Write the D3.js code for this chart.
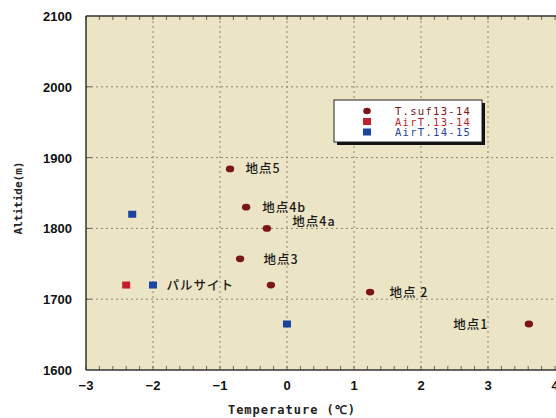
<!DOCTYPE html>
<html>
<head>
<meta charset="utf-8">
<script src="https://cdn.jsdelivr.net/npm/d3@7"></script>
<style>
  body { margin: 0; background: #fff; }
</style>
</head>
<body>
<div id="chart"></div>
<script>
// data
const tsufTemp = [-0.85, -0.61, -0.30, -0.70, -0.24, 1.24, 3.61];
const tsufAlt = [1884, 1830, 1800, 1757, 1720, 1710, 1665];
const air1314Temp = [-2.40];
const air1314Alt = [1720];
const air1415Temp = [-2.31, -2.0, 0.0];
const air1415Alt = [1820, 1720, 1665];

const siteNames = ["地点5", "地点4b", "地点4a", "地点3", "パルサイト", "地点 2", "地点1"];
// label anchor points (temp, alt) next to the points
const siteTemp = [-0.62, -0.37, 0.08, -0.35, -1.8, 1.53, 2.48];
const siteAlt = [1884, 1830, 1810, 1756, 1720, 1710, 1664];

const xTicks = [-3, -2, -1, 0, 1, 2, 3, 4];
const yTicks = [1600, 1700, 1800, 1900, 2000, 2100];

const width = 556, height = 418;
const margin = { top: 16, bottom: 48, left: 86, right: 1 };

const svg = d3.select("#chart").append("svg")
  .attr("width", width).attr("height", height)
  .attr("font-family", "'Liberation Sans', Arial, sans-serif");

const xScale = d3.scaleLinear().domain([-3, 4]).range([margin.left, 555]);
const yScale = d3.scaleLinear().domain([1600, 2100]).range([height - margin.bottom, margin.top]);

// plot background
svg.append("rect")
  .attr("x", margin.left).attr("y", margin.top)
  .attr("width", width - margin.left).attr("height", yScale(1600) - margin.top)
  .attr("fill", "#ece5c5");

// grid
svg.selectAll("line.vgrid")
  .data(xTicks.filter(d => d > -3 && d < 4))
  .join("line")
  .attr("class", "vgrid")
  .attr("x1", d => xScale(d)).attr("x2", d => xScale(d))
  .attr("y1", margin.top).attr("y2", yScale(1600))
  .attr("stroke", "#8a8670").attr("stroke-width", 1)
  .attr("stroke-dasharray", "2,3");

svg.selectAll("line.hgrid")
  .data(yTicks.filter(d => d > 1600 && d < 2100))
  .join("line")
  .attr("class", "hgrid")
  .attr("x1", margin.left).attr("x2", width)
  .attr("y1", d => yScale(d)).attr("y2", d => yScale(d))
  .attr("stroke", "#8a8670").attr("stroke-width", 1)
  .attr("stroke-dasharray", "2,3");

// short solid stubs at left
svg.selectAll("line.ystub")
  .data(yTicks.filter(d => d > 1600 && d < 2100))
  .join("line")
  .attr("class", "ystub")
  .attr("x1", margin.left).attr("x2", margin.left + 6)
  .attr("y1", d => yScale(d)).attr("y2", d => yScale(d))
  .attr("stroke", "#6a6650");

// minor ticks on top and bottom
const minor = d3.range(-3, 4.01, 0.2).map(d => +d.toFixed(1));
[yScale(1600), margin.top].forEach((y0, i) => {
  svg.selectAll("line.minor" + i)
    .data(minor)
    .join("line")
    .attr("class", "minor" + i)
    .attr("x1", d => xScale(d)).attr("x2", d => xScale(d))
    .attr("y1", y0).attr("y2", i === 0 ? y0 - 4 : y0 + 4)
    .attr("stroke", "#6a6650");
});

// axes lines
svg.append("line")
  .attr("x1", margin.left).attr("x2", width)
  .attr("y1", margin.top).attr("y2", margin.top)
  .attr("stroke", "#333").attr("stroke-width", 1.5);
svg.append("line")
  .attr("x1", margin.left).attr("x2", width)
  .attr("y1", yScale(1600)).attr("y2", yScale(1600))
  .attr("stroke", "#333").attr("stroke-width", 1.5);
svg.append("line")
  .attr("x1", margin.left).attr("x2", margin.left)
  .attr("y1", margin.top).attr("y2", yScale(1600))
  .attr("stroke", "#333").attr("stroke-width", 1.5);

// tick labels (the "4" is cut by the right edge as in the original)
svg.selectAll("text.xtick")
  .data(xTicks)
  .join("text")
  .attr("class", "xtick")
  .attr("x", d => xScale(d)).attr("y", yScale(1600) + 20)
  .attr("text-anchor", "middle")
  .attr("font-size", 13).attr("font-weight", "bold")
  .attr("fill", "#111")
  .text(d => d < 0 ? "\u2212" + Math.abs(d) : d);

svg.selectAll("text.ytick")
  .data(yTicks)
  .join("text")
  .attr("class", "ytick")
  .attr("x", 72).attr("y", d => yScale(d) + 5)
  .attr("text-anchor", "end")
  .attr("font-size", 13).attr("font-weight", "bold")
  .attr("fill", "#111")
  .text(d => d);

// axis titles
svg.append("text")
  .attr("x", 292).attr("y", 414)
  .attr("text-anchor", "middle")
  .attr("font-family", "'DejaVu Sans Mono', monospace")
  .attr("font-size", 12).attr("font-weight", "bold")
  .attr("letter-spacing", 1)
  .attr("fill", "#222")
  .text("Temperature (℃)");

svg.append("text")
  .attr("transform", "translate(22, 198) rotate(-90)")
  .attr("text-anchor", "middle")
  .attr("font-family", "'DejaVu Sans Mono', monospace")
  .attr("font-size", 11).attr("font-weight", "bold")
  .attr("fill", "#222")
  .text("Altitide(m)");

// points
svg.append("clipPath").attr("id", "plotclip")
  .append("rect").attr("x", margin.left).attr("y", margin.top)
  .attr("width", width - margin.left).attr("height", yScale(1600) - margin.top);

const plot = svg.append("g").attr("clip-path", "url(#plotclip)");

plot.selectAll("ellipse.tsuf")
  .data(d3.zip(tsufTemp, tsufAlt))
  .join("ellipse")
  .attr("class", "tsuf")
  .attr("cx", d => xScale(d[0])).attr("cy", d => yScale(d[1]))
  .attr("rx", 4.2).attr("ry", 3.4)
  .attr("fill", "#7a1518");

plot.selectAll("rect.air1314")
  .data(d3.zip(air1314Temp, air1314Alt))
  .join("rect")
  .attr("class", "air1314")
  .attr("x", d => xScale(d[0]) - 4).attr("y", d => yScale(d[1]) - 3.5)
  .attr("width", 8).attr("height", 7)
  .attr("fill", "#c11f2a");

plot.selectAll("rect.air1415")
  .data(d3.zip(air1415Temp, air1415Alt))
  .join("rect")
  .attr("class", "air1415")
  .attr("x", d => xScale(d[0]) - 4).attr("y", d => yScale(d[1]) - 3.5)
  .attr("width", 8).attr("height", 7)
  .attr("fill", "#1d43a0");

// site labels
svg.selectAll("text.site")
  .data(siteNames)
  .join("text")
  .attr("class", "site")
  .attr("x", (d, i) => xScale(siteTemp[i]))
  .attr("y", (d, i) => yScale(siteAlt[i]) + 4.5)
  .attr("font-family", "'Noto Sans CJK JP', sans-serif")
  .attr("font-size", 12.5).attr("font-weight", 500)
  .attr("letter-spacing", 1)
  .attr("fill", "#1a1a1a")
  .text(d => d);

// legend
const legendNames = ["T.suf13-14", "AirT.13-14", "AirT.14-15"];
const legendColors = ["#7a1518", "#c11f2a", "#1d43a0"];
const lg = svg.append("g").attr("transform", "translate(334,100)");
lg.append("rect").attr("x", 3).attr("y", 3).attr("width", 148).attr("height", 42).attr("fill", "#111");
lg.append("rect").attr("x", 0).attr("y", 0).attr("width", 148).attr("height", 42)
  .attr("fill", "#fff").attr("stroke", "#222").attr("stroke-width", 1);

legendNames.forEach((name, i) => {
  const y = 11 + i * 10.5;
  if (i === 0) {
    lg.append("ellipse").attr("cx", 33).attr("cy", y).attr("rx", 3.8).attr("ry", 3.2).attr("fill", legendColors[i]);
  } else {
    lg.append("rect").attr("x", 29).attr("y", y - 3.5).attr("width", 8).attr("height", 7).attr("fill", legendColors[i]);
  }
  lg.append("text")
    .attr("x", 61).attr("y", y + 4)
    .attr("font-family", "'DejaVu Sans Mono', monospace")
    .attr("font-size", 10.5)
    .attr("letter-spacing", 1.3)
    .attr("fill", legendColors[i])
    .text(name);
});
</script>
</body>
</html>
